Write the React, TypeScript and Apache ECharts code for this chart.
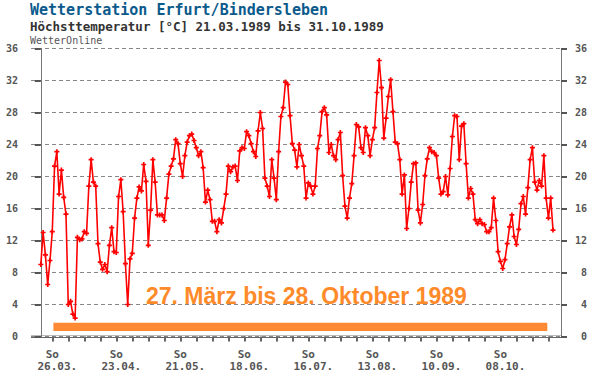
import React, { useEffect, useRef } from "react";
import * as echarts from "echarts";

// Daily maximum temperature (°C), 21.03.1989 (day 0) … 31.10.1989 (day 224)
const tmax: number[] = [
  9.0, 13.0, 10.2, 6.5, 9.5, 13.1, 21.3, 23.1, 17.8, 20.8,
  17.4, 15.3, 4.0, 4.4, 2.8, 2.3, 12.4, 12.1, 12.2, 13.1,
  12.9, 18.8, 22.1, 19.3, 18.8, 11.6, 9.3, 8.4, 9.0, 8.1,
  11.4, 13.6, 10.6, 10.5, 17.5, 19.6, 15.6, 9.1, 4.0, 9.7,
  10.4, 14.8, 17.3, 18.7, 18.2, 21.5, 19.4, 11.4, 15.8, 22.1,
  19.3, 15.2, 15.2, 15.2, 14.5, 17.3, 20.3, 21.3, 22.2, 24.6,
  24.1, 21.6, 20.0, 22.6, 24.3, 25.1, 25.3, 24.5, 23.6, 22.6,
  23.1, 21.1, 16.8, 18.3, 17.1, 14.4, 14.4, 13.1, 14.6, 14.2,
  16.0, 17.8, 21.3, 20.6, 21.2, 21.3, 19.5, 23.2, 23.6, 23.5,
  25.6, 25.1, 24.1, 23.1, 22.5, 25.7, 28.0, 26.0, 19.8, 18.8,
  17.5, 22.1, 19.8, 17.1, 23.1, 27.5, 28.6, 31.8, 31.5, 27.6,
  24.1, 23.3, 21.2, 24.0, 22.6, 21.3, 17.3, 19.2, 18.8, 17.8,
  18.8, 23.5, 25.1, 28.1, 28.6, 27.7, 23.0, 24.0, 22.6, 22.1,
  24.6, 25.5, 20.1, 16.3, 14.8, 17.3, 19.1, 22.6, 26.5, 26.2,
  23.6, 23.0, 26.1, 25.1, 22.6, 24.6, 26.1, 30.5, 34.5, 31.1,
  24.8, 27.3, 30.0, 32.1, 28.1, 24.3, 24.1, 22.1, 17.8, 20.2,
  13.5, 16.0, 19.3, 21.6, 21.7, 15.8, 14.2, 16.5, 20.1, 22.2,
  23.6, 23.1, 23.0, 22.6, 19.8, 17.8, 18.1, 20.0, 17.7, 21.0,
  25.0, 27.6, 27.5, 22.1, 26.3, 26.6, 21.6, 17.3, 18.5, 17.8,
  14.6, 14.1, 14.6, 14.1, 14.0, 13.1, 13.1, 13.6, 17.3, 14.5,
  10.6, 9.4, 8.5, 9.6, 11.6, 13.7, 15.2, 12.5, 11.5, 13.4,
  16.6, 17.5, 15.3, 18.6, 22.1, 23.6, 19.3, 18.3, 19.5, 18.8,
  22.6, 17.3, 14.8, 17.3, 13.3,
];

// Sunday labels (day index from 21.03.1989)
const labelDays: number[] = [5, 33, 61, 89, 117, 145, 173, 201];
const labelDates: string[] = ["26.03.", "23.04.", "21.05.", "18.06.", "16.07.", "13.08.", "10.09.", "08.10."];
// weekly ticks (every Sunday)
const weekTickDays: number[] = [5, 12, 19, 26, 33, 40, 47, 54, 61, 68, 75, 82, 89, 96, 103, 110, 117, 124, 131, 138, 145, 152, 159, 166, 173, 180, 187, 194, 201, 208, 215, 222];
const yTicks: number[] = [0, 4, 8, 12, 16, 20, 24, 28, 32, 36];

// highlighted period 27.03. (day 6) – 28.10. (day 221)
const periodStartDay = 6;
const periodEndDay = 221;
const periodLabel = "27. März bis 28. Oktober 1989";

const TITLE = "Wetterstation Erfurt/Bindersleben";
const SUBTITLE = "Höchsttemperatur [°C] 21.03.1989 bis 31.10.1989";
const SOURCE = "WetterOnline";

const MONO = "'DejaVu Sans Mono', 'Liberation Mono', monospace";
const PLUS = "path://M2,0H4V2H6V4H4V6H2V4H0V2H2Z";

export default function App() {
  const ref = useRef<HTMLDivElement>(null);
  useEffect(() => {
    if (!ref.current) return;
    const chart = echarts.init(ref.current, null, { renderer: "svg" });
    const data = tmax.map((v, i) => [i, v]);
    const labelMap: Record<number, string> = {};
    labelDays.forEach((d, k) => (labelMap[d] = labelDates[k]));
    const axisLabelStyle = {
      fontFamily: MONO,
      fontWeight: "bold" as const,
      fontSize: 10,
      color: "#555",
    };
    chart.setOption({
      animation: false,
      backgroundColor: "#fff",
      grid: { left: 31, right: 29, top: 48.5, bottom: 41.5, containLabel: false },
      xAxis: {
        type: "value",
        min: -4.3,
        max: 227.5,
        offset: 2,
        axisLine: { show: false },
        splitLine: { show: false },
        axisTick: {
          show: true,
          customValues: weekTickDays,
          length: 5,
          lineStyle: { color: "#666", width: 2 },
        },
        axisLabel: {
          customValues: labelDays,
          margin: 10,
          formatter: (v: number) => `{a|So}\n{b|${labelMap[Math.round(v)] ?? ""}}`,
          rich: {
            a: { fontFamily: MONO, fontWeight: "bold", fontSize: 11, color: "#555", lineHeight: 12 },
            b: { fontFamily: MONO, fontWeight: "bold", fontSize: 11, color: "#555", lineHeight: 12, padding: [0, 0, 0, 10] },
          },
        },
      },
      yAxis: [
        {
          type: "value",
          min: yTicks[0],
          max: yTicks[yTicks.length - 1],
          interval: 4,
          position: "left",
          axisLine: { show: true, lineStyle: { color: "#777", width: 1 } },
          axisTick: { show: true, length: 6, lineStyle: { color: "#555", width: 2 } },
          axisLabel: { ...axisLabelStyle, margin: 13 },
          splitLine: { show: true, lineStyle: { color: "#888", type: [4, 3], width: 1 } },
        },
        {
          type: "value",
          min: yTicks[0],
          max: yTicks[yTicks.length - 1],
          interval: 4,
          position: "right",
          axisLine: { show: true, lineStyle: { color: "#777", width: 1 } },
          axisTick: { show: true, length: 6, lineStyle: { color: "#555", width: 2 } },
          axisLabel: { ...axisLabelStyle, margin: 26, align: "right" },
          splitLine: { show: false },
        },
      ],
      series: [
        {
          type: "line",
          data,
          yAxisIndex: 0,
          symbol: PLUS,
          symbolSize: 5,
          showSymbol: true,
          lineStyle: { color: "#ff0000", width: 1.6 },
          itemStyle: { color: "#ff0000" },
          z: 5,
          markArea: {
            silent: true,
            itemStyle: { color: "#ff8a33" },
            data: [[{ xAxis: periodStartDay - 0.5, yAxis: 0.7 }, { xAxis: periodEndDay + 0.5, yAxis: 1.72 }]],
          },
        },
      ],
      graphic: [
        {
          type: "line",
          shape: { x1: 31, y1: 335.5, x2: 561, y2: 335.5 },
          style: { stroke: "#bbb", lineWidth: 1 },
          silent: true,
        },
        {
          type: "line",
          shape: { x1: 31, y1: 337.5, x2: 562, y2: 337.5 },
          style: { stroke: "#666", lineWidth: 1 },
          silent: true,
        },
        {
          type: "text",
          left: 30,
          top: 2,
          style: { text: TITLE, fontFamily: MONO, fontWeight: "bold", fontSize: 15, fill: "#0b5a8c" },
        },
        {
          type: "text",
          left: 30,
          top: 20,
          style: { text: SUBTITLE, fontFamily: MONO, fontWeight: "bold", fontSize: 12.5, fill: "#333" },
        },
        {
          type: "text",
          left: 30,
          top: 35,
          style: { text: SOURCE, fontFamily: MONO, fontSize: 10, fill: "#555" },
        },
        {
          type: "text",
          left: 146,
          top: 284,
          style: {
            text: periodLabel,
            fontFamily: "'Liberation Sans', Arial, sans-serif",
            fontWeight: "bold",
            fontSize: 23,
            fill: "#ff8a2a",
          },
        },
      ],
    });
    return () => chart.dispose();
  }, []);
  return (
    <div
      ref={ref}
      style={{ position: "fixed", left: 0, top: 0, width: 590, height: 378, background: "#fff" }}
    />
  );
}
